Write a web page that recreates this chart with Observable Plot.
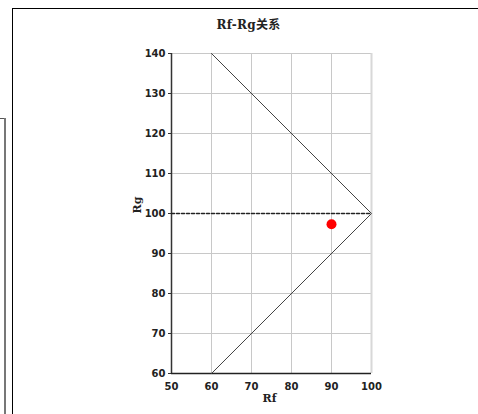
<!DOCTYPE html>
<html><head><meta charset="utf-8">
<script src="https://cdn.jsdelivr.net/npm/d3@7"></script>
<script src="https://cdn.jsdelivr.net/npm/@observablehq/plot@0.6"></script>
<style>
body{margin:0;background:#fff;}
#wrap{position:relative;width:478px;height:414px;overflow:hidden;}
#wrap svg{position:absolute;left:0;top:0;}
.frameTop{position:absolute;left:13px;top:8px;width:470px;height:0;border-top:1.5px solid #000;}
.frameLeft{position:absolute;left:12px;top:8px;width:0;height:420px;border-left:1.5px solid #000;}
.boxTop{position:absolute;left:0;top:118px;width:6px;height:0;border-top:1.5px solid #555;}
.boxLeft{position:absolute;left:4px;top:118px;width:0;height:300px;border-left:2px solid #777;}
#title{position:absolute;left:0;width:497px;top:15px;text-align:center;font:bold 12px "DejaVu Serif","Noto Sans CJK SC",serif;color:#222;letter-spacing:0.3px;}
</style></head>
<body><div id="wrap">
<div class="frameTop"></div><div class="frameLeft"></div>
<div class="boxTop"></div><div class="boxLeft"></div>
<div id="title">Rf-Rg关系</div>
</div>
<script>
const xTicks = [50, 60, 70, 80, 90, 100];
const yTicks = [60, 70, 80, 90, 100, 110, 120, 130, 140];
const boundRf = [60, 100, 60];
const boundRg = [140, 100, 60];
const refLineRf = [50, 100];
const refLineRg = [100, 100];
const pointRf = [90];
const pointRg = [97.3];

const bound = boundRf.map((x, i) => ({x, y: boundRg[i]}));
const ref = refLineRf.map((x, i) => ({x, y: refLineRg[i]}));
const pts = pointRf.map((x, i) => ({x, y: pointRg[i]}));

const chart = Plot.plot({
  width: 478, height: 414,
  marginLeft: 171, marginRight: 107, marginTop: 53, marginBottom: 41,
  style: {background: "transparent", fontFamily: "'DejaVu Sans', sans-serif", fontSize: "10px", fontWeight: "bold", color: "#222"},
  x: {domain: [50, 100], ticks: xTicks, label: null},
  y: {domain: [60, 140], ticks: yTicks, label: null},
  marks: [
    Plot.gridX(xTicks.filter(d => d < 100), {stroke: "#c8c8c8", strokeOpacity: 1}),
    Plot.gridY(yTicks, {stroke: "#c8c8c8", strokeOpacity: 1}),
    Plot.ruleX([100], {stroke: "#d8d8d8", strokeWidth: 2}),
    Plot.axisY({ticks: yTicks, tickSize: 3, tickPadding: 3, label: null, stroke: "#333"}),
    Plot.axisX({ticks: xTicks, tickSize: 0, tickPadding: 9, label: null}),
    Plot.ruleX([50], {stroke: "#333", strokeWidth: 1.5}),
    Plot.ruleY([60], {stroke: "#222", strokeWidth: 1.5}),
    Plot.line(bound, {x: "x", y: "y", stroke: "#444", strokeWidth: 1}),
    Plot.line(ref, {x: "x", y: "y", stroke: "#222", strokeWidth: 1.3, strokeDasharray: "3,2"}),
    Plot.dot(pts, {x: "x", y: "y", r: 5, fill: "#f00", stroke: "none"}),
    Plot.text(["Rf"], {frameAnchor: "bottom", dy: 28, dx: -2, fontFamily: "'DejaVu Serif', serif", fontSize: 11, fontWeight: "bold", fill: "#222"}),
    Plot.text(["Rg"], {frameAnchor: "left", dx: -34, rotate: -90, fontFamily: "'DejaVu Serif', serif", fontSize: 11, fontWeight: "bold", fill: "#222"})
  ]
});
document.getElementById("wrap").appendChild(chart);
</script>
</body></html>
